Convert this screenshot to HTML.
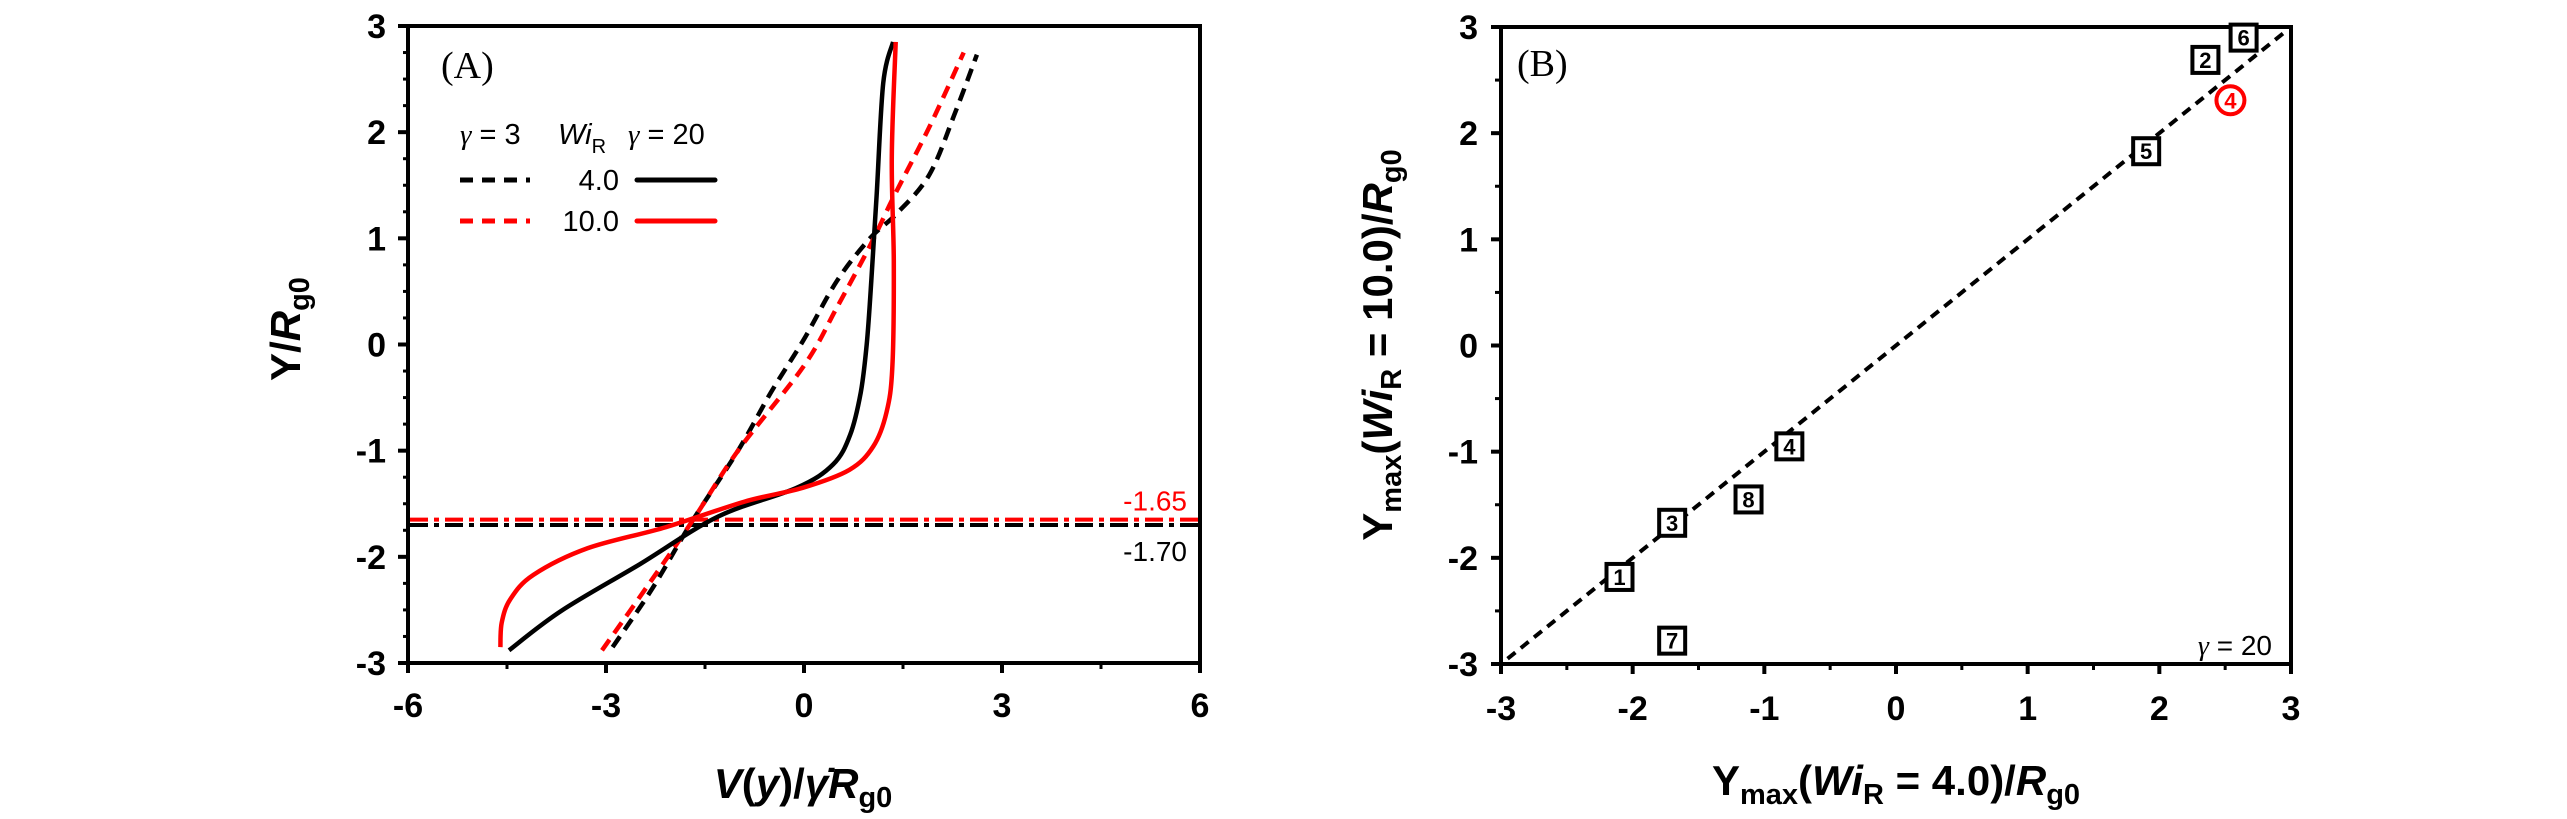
<!DOCTYPE html>
<html><head><meta charset="utf-8">
<style>
html,body{margin:0;padding:0;background:#fff;}
svg{display:block;font-family:"Liberation Sans",Arial,sans-serif;}
</style></head>
<body>
<svg id="fig" width="2567" height="819" viewBox="0 0 2567 819" xmlns="http://www.w3.org/2000/svg">
<g id="pa"></g>
<g id="pb"></g>
</svg>
<script>
// ---------- Panel A data ----------
const aXTicks = [-6, -3, 0, 3, 6];
const aYTicks = [-3, -2, -1, 0, 1, 2, 3];
const blackDashX = [-2.9, -2.3, -1.7, -1.0, -0.5, 0.0, 0.5, 1.0, 1.4, 1.9, 2.3, 2.62];
const blackDashY = [-2.85, -2.3, -1.67, -1.0, -0.45, 0.05, 0.6, 1.0, 1.23, 1.6, 2.2, 2.73];
const redDashX = [-3.06, -2.4, -1.7, -1.0, 0.0, 0.5, 1.0, 1.35, 1.9, 2.42];
const redDashY = [-2.88, -2.3, -1.67, -1.0, -0.2, 0.35, 0.93, 1.38, 2.05, 2.75];
const blackSolidX = [-4.47, -3.68, -2.49, -1.3, -0.11, 0.44, 0.7, 0.86, 0.95, 1.02, 1.1, 1.2, 1.35];
const blackSolidY = [-2.88, -2.51, -2.07, -1.62, -1.35, -1.13, -0.85, -0.45, 0.0, 0.6, 1.4, 2.46, 2.85];
const redSolidX = [-4.6, -4.58, -4.45, -4.1, -3.28, -2.09, -0.9, -0.02, 0.69, 1.05, 1.25, 1.34, 1.36, 1.33, 1.39];
const redSolidY = [-2.85, -2.62, -2.4, -2.17, -1.92, -1.72, -1.48, -1.35, -1.18, -0.96, -0.64, -0.2, 0.79, 1.77, 2.85];
const hLineValues = [-1.65, -1.70];
const hLineLabels = ["-1.65", "-1.70"];
// ---------- Panel B data ----------
const bTicks = [-3, -2, -1, 0, 1, 2, 3];
const bLabels = ["1", "2", "3", "4", "5", "6", "7", "8"];
const bX = [-2.10, 2.35, -1.70, -0.81, 1.90, 2.64, -1.70, -1.12];
const bY = [-2.18, 2.69, -1.67, -0.95, 1.83, 2.90, -2.78, -1.45];
const bRedLabel = ["4"];
const bRedX = [2.54];
const bRedY = [2.31];

const NS = "http://www.w3.org/2000/svg";
function mk(parent, tag, attrs, text) {
  const e = document.createElementNS(NS, tag);
  for (const k in attrs) e.setAttribute(k, attrs[k]);
  if (text !== undefined) e.textContent = text;
  parent.appendChild(e);
  return e;
}
function scale(d0, d1, p0, p1) { return v => p0 + (v - d0) / (d1 - d0) * (p1 - p0); }

// ================= PANEL A =================
const pa = document.getElementById('pa');
const ax = scale(-6, 6, 408, 1200), ay = scale(-3, 3, 663, 26);
let el = mk(pa, 'rect', {x: 408, y: 26, width: 792, height: 637, fill: 'none', stroke: '#000', 'stroke-width': 4});


aXTicks.forEach((t, i) => {
  const x = ax(t);
  let tk = mk(pa, 'line', {x1: x, x2: x, y1: 663, y2: 673, stroke: '#000', 'stroke-width': 4});
  
  
  let lb = mk(pa, 'text', {x: x, y: 717, 'text-anchor': 'middle', 'font-size': 34, 'font-weight': 'bold'}, String(t));
  
  
  if (i < aXTicks.length - 1) {
    const xm = ax(t + 1.5);
    let mt = mk(pa, 'line', {x1: xm, x2: xm, y1: 663, y2: 669, stroke: '#000', 'stroke-width': 3});
    
    
  }
});
aYTicks.forEach((t, i) => {
  const y = ay(t);
  let tk = mk(pa, 'line', {x1: 398, x2: 408, y1: y, y2: y, stroke: '#000', 'stroke-width': 4});
  
  
  let lb = mk(pa, 'text', {x: 386, y: y + 12, 'text-anchor': 'end', 'font-size': 34, 'font-weight': 'bold'}, String(t));
  
  
  if (i < aYTicks.length - 1) {
    for (const f of [0.25, 0.5, 0.75]) {
      const ym = ay(t + f);
      let mt = mk(pa, 'line', {x1: 403, x2: 408, y1: ym, y2: ym, stroke: '#000', 'stroke-width': 3});
      
      
    }
  }
});
const hColors = ['#ff0000', '#000'];
hLineValues.forEach((v, i) => {
  let l = mk(pa, 'line', {x1: 410, x2: 1198, y1: ay(v), y2: ay(v), stroke: hColors[i], 'stroke-width': 4, 'stroke-dasharray': '18 6 5 6'});
  
  
  let t = mk(pa, 'text', {x: 1187, y: ay(v) + (i === 0 ? -9 : 36), 'text-anchor': 'end', 'font-size': 28, fill: hColors[i]}, hLineLabels[i]);
  
  
});
function smoothPath(pts) {
  let d = 'M' + pts[0][0].toFixed(1) + ' ' + pts[0][1].toFixed(1);
  for (let i = 0; i < pts.length - 1; i++) {
    const p0 = pts[Math.max(0, i - 1)], p1 = pts[i], p2 = pts[i + 1], p3 = pts[Math.min(pts.length - 1, i + 2)];
    const c1x = p1[0] + (p2[0] - p0[0]) / 6, c1y = p1[1] + (p2[1] - p0[1]) / 6;
    const c2x = p2[0] - (p3[0] - p1[0]) / 6, c2y = p2[1] - (p3[1] - p1[1]) / 6;
    d += ' C' + c1x.toFixed(1) + ' ' + c1y.toFixed(1) + ' ' + c2x.toFixed(1) + ' ' + c2y.toFixed(1) + ' ' + p2[0].toFixed(1) + ' ' + p2[1].toFixed(1);
  }
  return d;
}
function curve(g, xs, ys, sx, sy, color, dash, name) {
  const pts = xs.map((x, i) => [sx(x), sy(ys[i])]);
  const attrs = {d: smoothPath(pts), fill: 'none', stroke: color, 'stroke-width': 4.5, 'stroke-linejoin': 'round'};
  if (dash) attrs['stroke-dasharray'] = dash;
  let p = mk(g, 'path', attrs);
  
  
}
curve(pa, blackDashX, blackDashY, ax, ay, '#000', '13 8', 'curve-gamma3-wi4');
curve(pa, redDashX, redDashY, ax, ay, '#ff0000', '13 8', 'curve-gamma3-wi10');
curve(pa, blackSolidX, blackSolidY, ax, ay, '#000', null, 'curve-gamma20-wi4');
curve(pa, redSolidX, redSolidY, ax, ay, '#ff0000', null, 'curve-gamma20-wi10');
el = mk(pa, 'text', {x: 441, y: 78, 'font-size': 38, 'font-family': '"Liberation Serif",serif'}, '(A)');


const lg = mk(pa, 'g', {});


el = mk(lg, 'text', {x: 460, y: 144, 'font-size': 29}); el.innerHTML = '<tspan font-family="Liberation Serif,serif" font-style="italic">γ</tspan> = 3';
 
el = mk(lg, 'text', {x: 558, y: 144, 'font-size': 29}); el.innerHTML = '<tspan font-style="italic">Wi</tspan><tspan font-size="20" dy="9">R</tspan>';
 
el = mk(lg, 'text', {x: 628, y: 144, 'font-size': 29}); el.innerHTML = '<tspan font-family="Liberation Serif,serif" font-style="italic">γ</tspan> = 20';
 
const legRows = [['4.0', '#000', 180], ['10.0', '#ff0000', 221]];
legRows.forEach(r => {
  let a = mk(lg, 'line', {x1: 460, x2: 530, y1: r[2], y2: r[2], stroke: r[1], 'stroke-width': 5, 'stroke-dasharray': '13 9'});
   
  let t = mk(lg, 'text', {x: 619, y: r[2] + 10, 'text-anchor': 'end', 'font-size': 29}, r[0]);
   
  let b = mk(lg, 'line', {x1: 637, x2: 715, y1: r[2], y2: r[2], stroke: r[1], 'stroke-width': 5, 'stroke-linecap': 'round'});
   
});
el = mk(pa, 'text', {x: 803, y: 798, 'text-anchor': 'middle', 'font-size': 42, 'font-weight': 'bold'});
el.innerHTML = '<tspan font-style="italic">V</tspan>(<tspan font-style="italic">y</tspan>)/<tspan font-style="italic">γ̇R</tspan><tspan font-size="29" dy="9">g0</tspan>';
 
el = mk(pa, 'text', {x: 0, y: 0, 'text-anchor': 'middle', 'font-size': 42, 'font-weight': 'bold', transform: 'translate(300,329) rotate(-90)'});
el.innerHTML = 'Y/<tspan font-style="italic">R</tspan><tspan font-size="29" dy="9">g0</tspan>';
 

// ================= PANEL B =================
const pb = document.getElementById('pb');
const bx = scale(-3, 3, 1501, 2291), by = scale(-3, 3, 664, 27);
el = mk(pb, 'rect', {x: 1501, y: 27, width: 790, height: 637, fill: 'none', stroke: '#000', 'stroke-width': 4});
 
bTicks.forEach((t, i) => {
  const x = bx(t), y = by(t);
  let tk = mk(pb, 'line', {x1: x, x2: x, y1: 664, y2: 674, stroke: '#000', 'stroke-width': 4});
   
  let lb = mk(pb, 'text', {x: x, y: 720, 'text-anchor': 'middle', 'font-size': 34, 'font-weight': 'bold'}, String(t));
   
  let ty = mk(pb, 'line', {x1: 1491, x2: 1501, y1: y, y2: y, stroke: '#000', 'stroke-width': 4});
   
  let ly = mk(pb, 'text', {x: 1478, y: y + 12, 'text-anchor': 'end', 'font-size': 34, 'font-weight': 'bold'}, String(t));
   
  if (i < bTicks.length - 1) {
    const xm = bx(t + 0.5), ym = by(t + 0.5);
    let m1 = mk(pb, 'line', {x1: xm, x2: xm, y1: 664, y2: 670, stroke: '#000', 'stroke-width': 3});
     
    let m2 = mk(pb, 'line', {x1: 1495, x2: 1501, y1: ym, y2: ym, stroke: '#000', 'stroke-width': 3});
     
  }
});
el = mk(pb, 'line', {x1: bx(-2.95), y1: by(-2.95), x2: bx(2.95), y2: by(2.95), stroke: '#000', 'stroke-width': 4, 'stroke-dasharray': '10 7'});
 
bLabels.forEach((lab, i) => {
  const g = mk(pb, 'g', {});
  
  
  const cx = bx(bX[i]), cy = by(bY[i]);
  mk(g, 'rect', {x: cx - 13, y: cy - 13, width: 26, height: 26, fill: '#fff', stroke: '#000', 'stroke-width': 4});
  mk(g, 'text', {x: cx, y: cy + 8, 'text-anchor': 'middle', 'font-size': 22, 'font-weight': 'bold'}, lab);
});
bRedLabel.forEach((lab, i) => {
  const g = mk(pb, 'g', {});
  
  
  const cx = bx(bRedX[i]), cy = by(bRedY[i]);
  mk(g, 'circle', {cx: cx, cy: cy, r: 14, fill: '#fff', stroke: '#ff0000', 'stroke-width': 4});
  mk(g, 'text', {x: cx, y: cy + 8, 'text-anchor': 'middle', 'font-size': 22, 'font-weight': 'bold', fill: '#ff0000'}, lab);
});
el = mk(pb, 'text', {x: 1517, y: 76, 'font-size': 38, 'font-family': '"Liberation Serif",serif'}, '(B)');
 
el = mk(pb, 'text', {x: 2272, y: 655, 'text-anchor': 'end', 'font-size': 28});
el.innerHTML = '<tspan font-family="Liberation Serif,serif" font-style="italic">γ</tspan> = 20';
 
el = mk(pb, 'text', {x: 1896, y: 795, 'text-anchor': 'middle', 'font-size': 42, 'font-weight': 'bold'});
el.innerHTML = 'Y<tspan font-size="29" dy="9">max</tspan><tspan dy="-9">(</tspan><tspan font-style="italic">Wi</tspan><tspan font-size="29" dy="9">R</tspan><tspan dy="-9"> = 4.0)/</tspan><tspan font-style="italic">R</tspan><tspan font-size="29" dy="9">g0</tspan>';
 
el = mk(pb, 'text', {x: 0, y: 0, 'text-anchor': 'middle', 'font-size': 42, 'font-weight': 'bold', transform: 'translate(1392,345) rotate(-90)'});
el.innerHTML = 'Y<tspan font-size="29" dy="9">max</tspan><tspan dy="-9">(</tspan><tspan font-style="italic">Wi</tspan><tspan font-size="29" dy="9">R</tspan><tspan dy="-9"> = 10.0)/</tspan><tspan font-style="italic">R</tspan><tspan font-size="29" dy="9">g0</tspan>';
 
</script>
</body></html>
